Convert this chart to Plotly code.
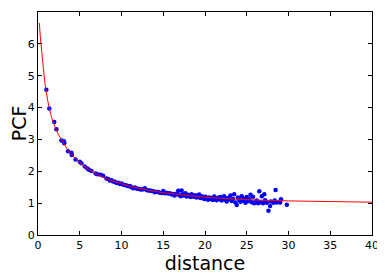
import plotly.graph_objects as go

# scatter (observed PCF)
dist_pts = [1.0, 1.35, 1.95, 2.2, 2.8, 3.1, 3.15, 3.6, 4.0, 4.05, 4.5, 5.0, 5.2, 5.6, 5.9, 6.1, 6.4, 6.9, 7.1, 7.5, 7.8, 8.2,
            8.4, 8.6, 8.8, 9.0, 9.2, 9.4, 9.6, 9.8, 10.0, 10.2, 10.4, 10.6, 10.8, 11.0, 11.2, 11.4, 11.6, 11.8, 12.0, 12.2,
            12.4, 12.6, 12.8, 13.0, 13.2, 13.4, 13.6, 13.8, 14.0, 14.2, 14.4, 14.6, 14.8, 15.0, 15.2, 15.4, 15.6, 15.8, 16.0,
            16.2, 16.35, 16.5, 16.65, 16.8, 16.95, 17.1, 17.2, 17.35, 17.5, 17.65, 17.8, 17.95, 18.1, 18.25, 18.4, 18.55,
            18.7, 18.85, 19.0, 19.15, 19.3, 19.45, 19.6, 19.75, 19.9, 20.05, 20.2, 20.35, 20.5, 20.65, 20.8, 20.95, 21.1,
            21.25, 21.4, 21.55, 21.7, 21.85, 22.0, 22.15, 22.3, 22.45, 22.6, 22.75, 22.9, 23.05, 23.2, 23.35, 23.5, 23.65,
            23.8, 23.95, 24.1, 24.25, 24.4, 24.55, 24.7, 24.85, 25.0, 25.15, 25.3, 25.45, 25.6, 25.75, 25.9, 26.05, 26.2,
            26.35, 26.5, 26.65, 26.8, 26.95,
            27.1, 27.2, 27.4, 27.6, 27.8, 27.9, 28.2, 28.35, 28.45, 28.6, 29.0, 29.1, 29.8]
pcf_pts = [4.56, 3.97, 3.55, 3.32, 2.97, 2.94, 2.88, 2.63, 2.58, 2.51, 2.37, 2.30, 2.25, 2.15, 2.09, 2.05, 2.01, 1.93, 1.91, 1.89, 1.86, 1.77,
           1.76, 1.71, 1.72, 1.68, 1.67, 1.63, 1.64, 1.60, 1.62, 1.58, 1.57, 1.55, 1.53, 1.54, 1.50, 1.47, 1.49, 1.46, 1.45, 1.44,
           1.43, 1.44, 1.47, 1.41, 1.40, 1.40, 1.38, 1.37, 1.34, 1.36, 1.35, 1.33, 1.32, 1.38, 1.31, 1.33, 1.30, 1.31, 1.27,
           1.29, 1.24, 1.27, 1.30, 1.39, 1.25, 1.22, 1.40, 1.28, 1.24, 1.31, 1.21, 1.26, 1.23, 1.19, 1.28, 1.22,
           1.20, 1.25, 1.18, 1.21, 1.27, 1.16, 1.22, 1.19, 1.13, 1.20, 1.15, 1.11, 1.18, 1.13, 1.16, 1.10, 1.21,
           1.14, 1.09, 1.17, 1.12, 1.19, 1.08, 1.14, 1.22, 1.10, 1.05, 1.16, 1.12, 1.24, 1.07, 1.13, 1.28, 1.02,
           0.94, 1.18, 1.10, 1.04, 1.22, 1.08, 1.14, 1.01, 1.19, 1.06, 1.12, 1.26, 1.03, 1.20, 1.00, 1.04, 1.08,
           1.00, 1.37, 1.03, 1.22, 1.00,
           1.28, 1.09, 1.01, 0.76, 0.91, 1.05, 1.01, 1.08, 1.41, 1.02, 1.02, 1.12, 0.95]

# fitted curve
fit_x = [0.16, 0.3, 0.44, 0.64, 0.84, 1.0, 1.16, 1.4, 1.64, 2.0, 2.44, 3, 3.5, 4, 5, 6, 7, 8, 9, 10, 11, 12, 13, 14,
         15, 16, 18, 20, 22, 25, 30, 35, 40]
fit_y = [6.66, 6.15, 5.78, 5.25, 4.75, 4.47, 4.22, 3.93, 3.68, 3.42, 3.16, 2.92, 2.70, 2.53, 2.27, 2.07, 1.92, 1.79,
         1.69, 1.61, 1.53, 1.47, 1.42, 1.37, 1.33, 1.30, 1.24, 1.19, 1.15, 1.11, 1.07, 1.05, 1.03]

x_ticks = [0, 5, 10, 15, 20, 25, 30, 35, 40]
y_ticks = [0, 1, 2, 3, 4, 5, 6, 7]

fig = go.Figure()
fig.add_trace(go.Scatter(x=dist_pts, y=pcf_pts, mode="markers",
                         marker=dict(color="#0000ff", size=4.5, line=dict(width=0)), showlegend=False))
fig.add_trace(go.Scatter(x=fit_x, y=fit_y, mode="lines", line=dict(color="#ff0000", width=1, shape="spline"),
                         showlegend=False))

axis_common = dict(showgrid=False, zeroline=False, showline=True, linecolor="black", linewidth=1,
                   mirror="ticks", ticks="inside", ticklen=4, tickcolor="black", automargin=False,
                   tickfont=dict(family="DejaVu Sans", size=11, color="black"))
fig.update_xaxes(range=[0, 40], tickvals=x_ticks,
                 title=dict(text="distance", font=dict(family="DejaVu Sans", size=19, color="black"), standoff=4),
                 **axis_common)
fig.update_yaxes(range=[0, 7], tickvals=y_ticks,
                 title=dict(text="PCF", font=dict(family="DejaVu Sans", size=19, color="black"), standoff=3),
                 **axis_common)
# page body has an 8px default margin; size the figure so the plot area lands where the reference has it
fig.update_layout(width=377, height=271, margin=dict(l=30, r=13, t=4, b=44),
                  paper_bgcolor="white", plot_bgcolor="white")
fig.write_html("out.html")
